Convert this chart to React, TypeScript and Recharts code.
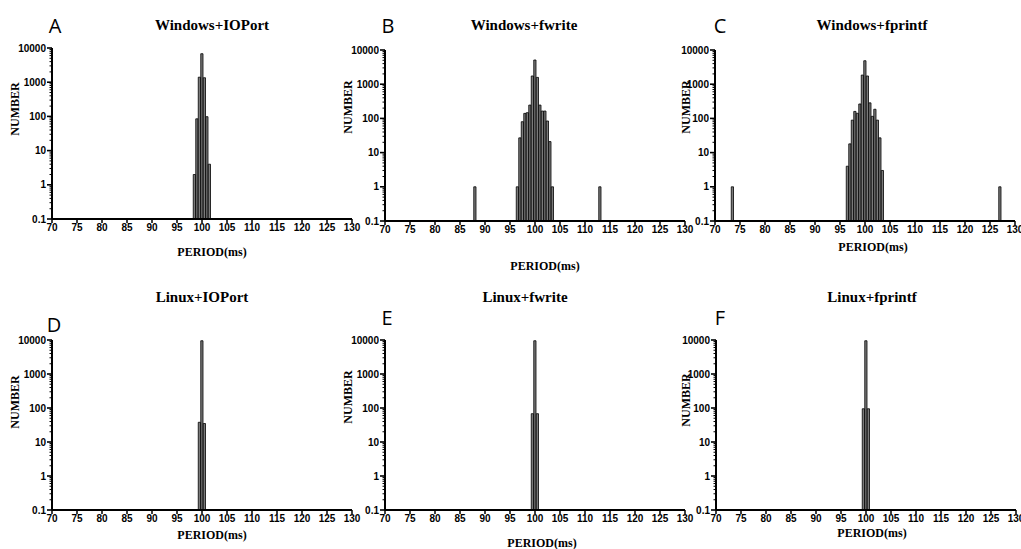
import { BarChart, Bar, XAxis, YAxis } from "recharts";

// histogram bins (ms) and counts
const A_PERIOD = [98.5, 99, 99.5, 100, 100.5, 101, 101.5];
const A_COUNT = [2, 85, 1400, 6800, 1350, 98, 4];

const B_PERIOD = [88, 96.5, 97, 97.5, 98, 98.5, 99, 99.5, 100, 100.5, 101, 101.5, 102, 102.5, 103, 103.5, 113];
const B_COUNT = [1, 1, 27, 80, 140, 147, 245, 1740, 5100, 1580, 245, 164, 164, 84, 21, 1, 1];

const C_PERIOD = [73.5, 96.5, 97, 97.5, 98, 98.5, 99, 99.5, 100, 100.5, 101, 101.5, 102, 102.5, 103, 103.5, 127];
const C_COUNT = [1, 4, 18, 89, 160, 141, 264, 1850, 4850, 1740, 285, 115, 185, 89, 27, 3, 1];

const D_PERIOD = [99.5, 100, 100.5];
const D_COUNT = [38, 9500, 35];

const E_PERIOD = [99.5, 100, 100.5];
const E_COUNT = [68, 9500, 68];

const F_PERIOD = [99.5, 100, 100.5];
const F_COUNT = [95, 9500, 95];

const X_TICKS = [70, 75, 80, 85, 90, 95, 100, 105, 110, 115, 120, 125, 130];
const Y_MAJOR = [0.1, 1, 10, 100, 1000, 10000];
const Y_LABELS = ["0.1", "1", "10", "100", "1000", "10000"];
const Y_TICKS: number[] = [];
Y_MAJOR.forEach((m, i) => {
  if (i === Y_MAJOR.length - 1) {
    Y_TICKS.push(m);
    return;
  }
  for (let k = 1; k < 10; k++) Y_TICKS.push(Number((m * k).toPrecision(3)));
});

const SANS = "'Liberation Sans', Arial, sans-serif";
const SERIF = "'Liberation Serif', 'Times New Roman', serif";

const PLOT_W = 300;
const Y_W = 50;
const M_TOP = 8;
const M_RIGHT = 14;

function LogTick({ x, y, payload }: any) {
  const v = payload.value;
  const idx = Y_MAJOR.findIndex((m) => Math.abs(m - v) < 1e-9);
  const major = idx >= 0;
  return (
    <g>
      <line x1={x - (major ? 5 : 2.5)} x2={x} y1={y} y2={y} stroke="#000" strokeWidth={major ? 1.6 : 1} />
      {major && (
        <text x={x - 6} y={y} dy={3.5} textAnchor="end" fontSize={10} fontWeight="bold" fontFamily={SANS} fill="#000">
          {Y_LABELS[idx]}
        </text>
      )}
    </g>
  );
}

type PanelProps = {
  period: number[];
  count: number[];
  axisX: number;
  top: number;
  bottom: number;
};

function Panel({ period, count, axisX, top, bottom }: PanelProps) {
  const data = period.map((p, i) => ({ period: p, count: count[i] }));
  const plotH = bottom - top;
  return (
    <div style={{ position: "absolute", left: axisX - Y_W, top: top - M_TOP }}>
      <BarChart
        width={Y_W + PLOT_W + M_RIGHT}
        height={M_TOP + plotH + 30}
        data={data}
        margin={{ top: M_TOP, right: M_RIGHT, bottom: 0, left: 0 }}
      >
        <XAxis
          dataKey="period"
          type="number"
          domain={[70, 130]}
          ticks={X_TICKS}
          interval={0}
          height={30}
          tickSize={4}
          tickMargin={1}
          axisLine={{ stroke: "#000", strokeWidth: 2 }}
          tickLine={{ stroke: "#000", strokeWidth: 1.5 }}
          tick={{ fontSize: 10, fontWeight: "bold", fill: "#000", fontFamily: SANS }}
        />
        <YAxis
          scale="log"
          domain={[0.1, 10000]}
          allowDataOverflow
          ticks={Y_TICKS}
          interval={0}
          width={Y_W}
          tickSize={0}
          tickMargin={0}
          tickLine={false}
          axisLine={{ stroke: "#000", strokeWidth: 2 }}
          tick={<LogTick />}
        />
        <Bar dataKey="count" fill="#7a7a7a" stroke="#000" strokeWidth={0.8} barSize={2.5} isAnimationActive={false} />
      </BarChart>
    </div>
  );
}

function Text({ x, y, children, style }: any) {
  return (
    <div
      style={{
        position: "absolute",
        left: x,
        top: y,
        transform: "translate(-50%, -50%)",
        whiteSpace: "nowrap",
        lineHeight: 1,
        color: "#000",
        ...style,
      }}
    >
      {children}
    </div>
  );
}

const TITLE = { fontFamily: SERIF, fontWeight: "bold", fontSize: 15 };
const LABEL = { fontFamily: SERIF, fontWeight: "bold", fontSize: 12 };
const LETTER = { fontFamily: "'Open Sans', sans-serif", fontSize: 20 };
const VERT = { ...LABEL, transform: "translate(-50%, -50%) rotate(-90deg)" };

export default function App() {
  return (
    <div style={{ position: "absolute", left: 0, top: 0, width: 1021, height: 549, background: "#fff", overflow: "hidden" }}>
      <Panel period={A_PERIOD} count={A_COUNT} axisX={52} top={48} bottom={219} />
      <Panel period={B_PERIOD} count={B_COUNT} axisX={385} top={50} bottom={221} />
      <Panel period={C_PERIOD} count={C_COUNT} axisX={715} top={50} bottom={221} />
      <Panel period={D_PERIOD} count={D_COUNT} axisX={52} top={340} bottom={510} />
      <Panel period={E_PERIOD} count={E_COUNT} axisX={385} top={340} bottom={510} />
      <Panel period={F_PERIOD} count={F_COUNT} axisX={716} top={340} bottom={510} />

      <Text x={212} y={25} style={TITLE}>Windows+IOPort</Text>
      <Text x={524} y={25} style={TITLE}>Windows+fwrite</Text>
      <Text x={872} y={25} style={TITLE}>Windows+fprintf</Text>
      <Text x={202} y={297} style={TITLE}>Linux+IOPort</Text>
      <Text x={525} y={297} style={TITLE}>Linux+fwrite</Text>
      <Text x={872} y={297} style={TITLE}>Linux+fprintf</Text>

      <Text x={55} y={26} style={LETTER}>A</Text>
      <Text x={388} y={26} style={LETTER}>B</Text>
      <Text x={720} y={26} style={LETTER}>C</Text>
      <Text x={54} y={325} style={LETTER}>D</Text>
      <Text x={387} y={318} style={LETTER}>E</Text>
      <Text x={720} y={318} style={LETTER}>F</Text>

      <Text x={212} y={252} style={LABEL}>PERIOD(ms)</Text>
      <Text x={545} y={266} style={LABEL}>PERIOD(ms)</Text>
      <Text x={873} y={247} style={LABEL}>PERIOD(ms)</Text>
      <Text x={212} y={535} style={LABEL}>PERIOD(ms)</Text>
      <Text x={542} y={543} style={LABEL}>PERIOD(ms)</Text>
      <Text x={872} y={533} style={LABEL}>PERIOD(ms)</Text>

      <Text x={15} y={109} style={VERT}>NUMBER</Text>
      <Text x={348} y={107} style={VERT}>NUMBER</Text>
      <Text x={686} y={107} style={VERT}>NUMBER</Text>
      <Text x={15} y={402} style={VERT}>NUMBER</Text>
      <Text x={348} y={397} style={VERT}>NUMBER</Text>
      <Text x={686} y={400} style={VERT}>NUMBER</Text>
    </div>
  );
}
